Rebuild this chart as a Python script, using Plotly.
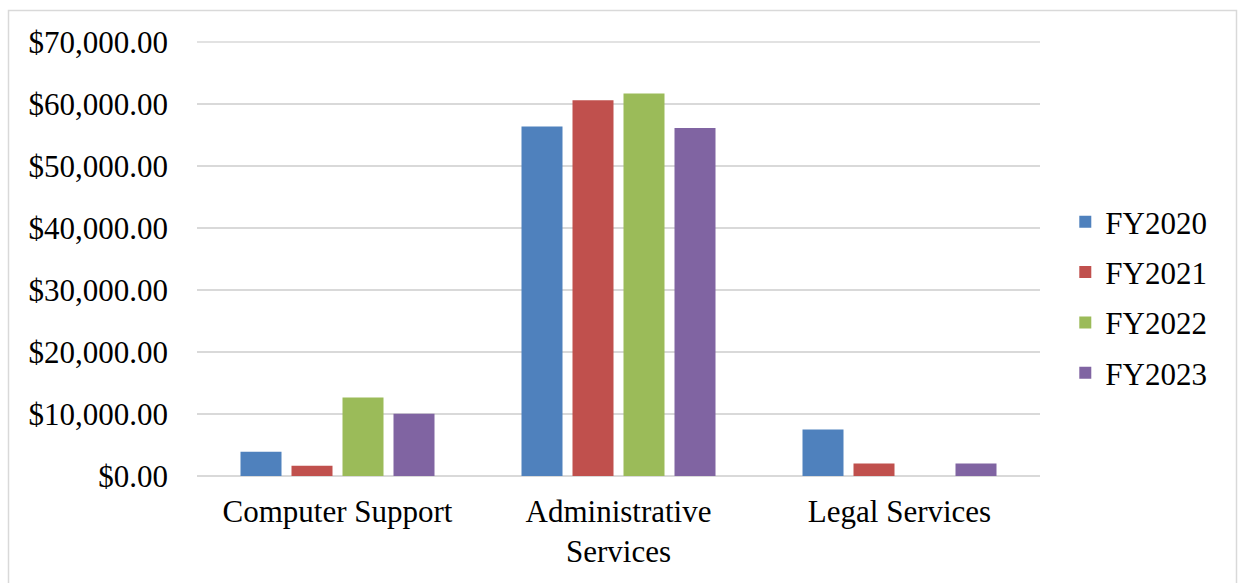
import plotly.graph_objects as go

categories = ["Computer Support", "Administrative<br>Services", "Legal Services"]
series_names = ["FY2020", "FY2021", "FY2022", "FY2023"]
fy2020 = [3900, 56350, 7500]
fy2021 = [1650, 60600, 2000]
fy2022 = [12650, 61700, 0]
fy2023 = [10050, 56100, 2000]
colors = ["#4F81BD", "#C0504D", "#9BBB59", "#8064A2"]
tick_vals = [0, 10000, 20000, 30000, 40000, 50000, 60000, 70000]
tick_text = ["$0.00", "$10,000.00", "$20,000.00", "$30,000.00", "$40,000.00",
             "$50,000.00", "$60,000.00", "$70,000.00"]

W, H = 1238, 583
L, R, T, B = 197, 198, 41, 107
pw, ph = W - L - R, H - T - B

fig = go.Figure()
for name, vals, col in zip(series_names, [fy2020, fy2021, fy2022, fy2023], colors):
    fig.add_trace(go.Bar(name=name, x=categories, y=vals, marker_color=col,
                         marker_line_width=0, legendgroup=name))

font = dict(family="Liberation Serif, Times New Roman, serif", size=31, color="#000000")

fig.update_layout(
    width=W, height=H,
    margin=dict(l=L, r=R, t=T, b=B),
    paper_bgcolor="white", plot_bgcolor="white",
    barmode="group", bargap=0.274, bargroupgap=0.196,
    font=font,
    showlegend=True,
    legend=dict(x=1.03, xanchor="left", y=0.41, yanchor="middle", font=font,
                itemwidth=30, tracegroupgap=7, traceorder="grouped",
                bgcolor="rgba(0,0,0,0)"),
    xaxis=dict(showgrid=False, showline=False, ticks="", tickfont=font,
               ticklabelstandoff=14),
    yaxis=dict(range=[0, 70150], tickvals=tick_vals, ticktext=tick_text,
               showgrid=True, gridcolor="#D9D9D9", gridwidth=1.5,
               zeroline=True, zerolinecolor="#D9D9D9", zerolinewidth=1.5,
               showline=False, ticks="", tickfont=font, ticklabelstandoff=28),
    shapes=[
        dict(type="rect", xref="paper", yref="paper",
             x0=(8.5 - L) / pw, x1=(1236.5 - L) / pw,
             y0=-0.5, y1=(H - B - 10.5) / ph,
             line=dict(color="#D9D9D9", width=1.5), fillcolor="rgba(0,0,0,0)",
             layer="below"),
        dict(type="line", xref="paper", yref="y", x0=0, x1=1,
             y0=tick_vals[-1], y1=tick_vals[-1],
             line=dict(color="#D9D9D9", width=1.5), layer="below"),
    ],
)

fig.write_html("out.html")
